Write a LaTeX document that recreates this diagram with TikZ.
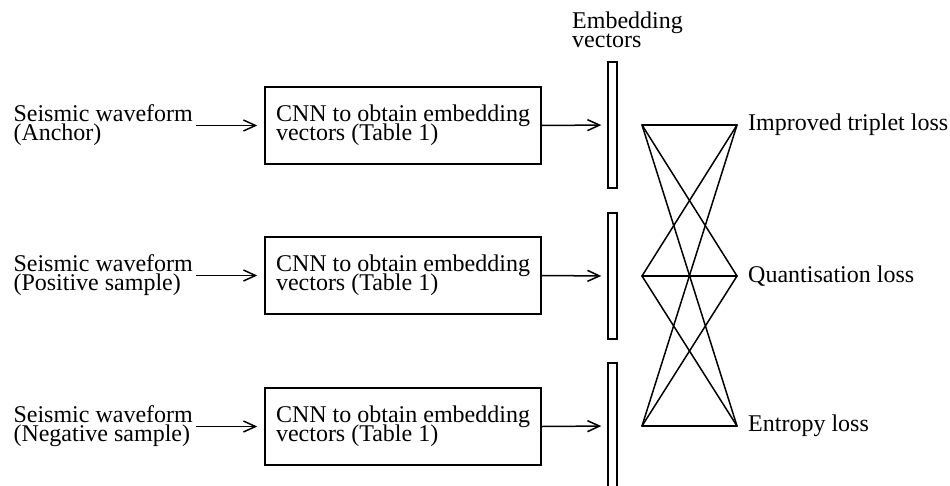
\documentclass[tikz,border=0pt]{standalone}
\usepackage{fontspec}
\setmainfont{Liberation Serif}
\usetikzlibrary{arrows.meta}
\begin{document}
\begin{tikzpicture}[x=1pt,y=-1pt,
  txtfont/.style={font={\fontsize{24}{19}\selectfont\lineskiplimit=-100pt\lineskip=0pt}},
  lbl/.style={txtfont, inner sep=0pt, align=left},
  cnn/.style={txtfont, draw, line width=1.5pt, minimum width=276pt, minimum height=77pt,
    inner sep=0pt, align=left},
  vec/.style={draw, line width=1.5pt, minimum width=9pt, minimum height=126pt, inner sep=0pt},
  flow/.style={line width=1.5pt, -{Straight Barb[length=12pt,width=11pt,line width=1.5pt]}},
  link/.style={line width=1.5pt, line cap=round, line join=round}]
  \clip (0,0) rectangle (950,485);

  % inputs
  \node[lbl, anchor=east] (t1) at (193,125.5) {Seismic waveform\\(Anchor)};
  \node[lbl, anchor=east] (t2) at (193,275.5) {Seismic waveform\\(Positive sample)};
  \node[lbl, anchor=east] (t3) at (193,426.5) {Seismic waveform\\(Negative sample)};
  % the three CNN branches
  \node[cnn] (c1) at (403,125.5) {CNN to obtain embedding\\vectors (Table 1)};
  \node[cnn] (c2) at (403,275.5) {CNN to obtain embedding\\vectors (Table 1)};
  \node[cnn] (c3) at (403,426.5) {CNN to obtain embedding\\vectors (Table 1)};
  % embedding vectors
  \node[vec] (v1) at (612.5,125) {};
  \node[vec] (v2) at (612.5,276) {};
  \node[vec] (v3) at (612.5,426) {};
  \node[lbl, anchor=west] (ev) at (572,30) {Embedding\\vectors};

  \foreach \i in {1,2,3} {
    \draw[flow, shorten <=3pt, shorten >=7pt] (t\i.east) -- (c\i.west);
    \draw[flow, shorten >=6pt] (c\i.east) -- (v\i.west);
  }

  % loss terms
  \coordinate (l1) at (642,125);
  \coordinate (l2) at (642,276);
  \coordinate (l3) at (642,426);
  \coordinate (r1) at (737,125);
  \coordinate (r2) at (737,276);
  \coordinate (r3) at (737,426);
  \node[lbl, anchor=west] (o1) at (748,125) {Improved triplet loss};
  \node[lbl, anchor=west] (o2) at (748,276) {Quantisation loss};
  \node[lbl, anchor=west] (o3) at (748,426) {Entropy loss};

  \foreach \a in {1,2,3}
    \foreach \b in {1,2,3}
      \draw[link] (l\a) -- (r\b);
\end{tikzpicture}
\end{document}
